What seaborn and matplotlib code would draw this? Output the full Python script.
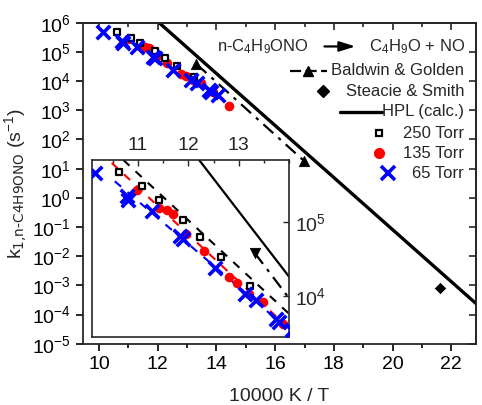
import numpy as np
import seaborn as sns
import matplotlib.pyplot as plt
from matplotlib.lines import Line2D
from matplotlib.ticker import FixedLocator, MultipleLocator, NullLocator, LogLocator

# data: x = 10000 K / T, values = log10(k / s^-1)
x_250 = [10.62, 11.09, 11.41, 11.90, 12.23, 12.65, 13.22]
lk_250 = [5.69, 5.49, 5.31, 5.03, 4.80, 4.53, 4.14]

x_135 = [10.99, 11.41, 11.58, 11.69, 11.95, 12.31, 12.80, 12.97, 13.20, 13.48, 13.88, 14.43]
lk_135 = [5.44, 5.20, 5.17, 5.12, 4.84, 4.61, 4.25, 4.18, 4.02, 3.92, 3.62, 3.16]

x_65 = [10.15, 10.78, 10.80, 11.28, 11.83, 11.89, 12.52, 13.12, 13.35, 13.74, 13.80, 14.05]
lk_65 = [5.67, 5.36, 5.30, 5.15, 4.82, 4.78, 4.38, 4.03, 3.94, 3.68, 3.64, 3.53]

x_bg = [13.32, 16.98]          # Baldwin & Golden
lk_bg = [4.58, 1.27]
x_ss = [21.63]                 # Steacie & Smith
lk_ss = [-3.08]
x_hpl = [12.0, 23.0]           # HPL (calc.)
lk_hpl = [6.04, -3.76]

# fitted lines shown in the inset
x_fit250 = [10.71, 13.99]
lk_fit250 = [5.85, 3.76]
x_fit135 = [10.48, 13.99]
lk_fit135 = [5.81, 3.56]
x_fit65 = [10.54, 13.99]
lk_fit65 = [5.56, 3.54]

sns.set_theme(style="ticks")
plt.rcParams["font.family"] = ["Liberation Sans", "DejaVu Sans"]
plt.rcParams["mathtext.default"] = "regular"
plt.rcParams["axes.linewidth"] = 1.3

k = lambda v: np.power(10.0, v)

fig = plt.figure(figsize=(4.82, 4.05), dpi=100)
ax = fig.add_axes([0.172, 0.151, 0.816, 0.793])
ax.set_yscale("log")


def draw(a, inset=False):
    sns.lineplot(x=x_hpl, y=k(np.array(lk_hpl)), color="black", lw=2.4 if not inset else 1.6, ax=a)
    sns.lineplot(x=x_bg, y=k(np.array(lk_bg)), color="black", lw=1.6,
                 linestyle=(0, (6, 3, 1.5, 3)), ax=a)
    sns.scatterplot(x=x_bg if not inset else x_bg[:1],
                    y=k(np.array(lk_bg)) if not inset else k(np.array(lk_bg[:1])),
                    marker="^" if not inset else "v", s=55, color="black", edgecolor="black", ax=a)
    sns.scatterplot(x=x_ss, y=k(np.array(lk_ss)), marker="D", s=40, color="black", ax=a)
    if inset:
        sns.lineplot(x=x_fit250, y=k(np.array(lk_fit250)), color="black", lw=1.5,
                     linestyle=(0, (4, 4)), ax=a)
        sns.lineplot(x=x_fit135, y=k(np.array(lk_fit135)), color="red", lw=1.5,
                     linestyle=(0, (4, 4)), ax=a)
        sns.lineplot(x=x_fit65, y=k(np.array(lk_fit65)), color="blue", lw=1.5,
                     linestyle=(0, (4, 4)), ax=a)
    sns.scatterplot(x=x_250, y=k(np.array(lk_250)), marker="s", s=22, color="white",
                    edgecolor="black", linewidth=1.6, ax=a, zorder=5)
    sns.scatterplot(x=x_135, y=k(np.array(lk_135)), marker="o", s=48, color="red",
                    edgecolor="red", linewidth=0, ax=a, zorder=4)
    sns.scatterplot(x=x_65, y=k(np.array(lk_65)), marker="x", s=95, color="blue",
                    linewidth=2.6, ax=a, zorder=6)


draw(ax)
ax.set_xlim(9.45, 22.85)
ax.set_ylim(1e-5, 1e6)
ax.xaxis.set_major_locator(MultipleLocator(2))
ax.xaxis.set_minor_locator(MultipleLocator(1))
ax.yaxis.set_major_locator(LogLocator(base=10, numticks=20))
ax.yaxis.set_minor_locator(NullLocator())
ax.tick_params(which="both", direction="out", width=1.2, labelsize=14, colors="black")
ax.tick_params(which="major", length=5)
ax.tick_params(which="minor", length=3)
ax.set_xlabel("10000 K / T", fontsize=14, labelpad=11)
ax.set_ylabel(r"k$_{\text{1,n-C4H9ONO}}$ (s$^{-1}$)", fontsize=14)
ax.yaxis.set_label_coords(-0.135, 0.5)

top = ax.secondary_xaxis("top")
top.xaxis.set_major_locator(MultipleLocator(2))
top.xaxis.set_minor_locator(MultipleLocator(1))
top.tick_params(which="both", direction="in", labeltop=False, width=1.2)
top.tick_params(which="major", length=5)
top.tick_params(which="minor", length=3)
right = ax.secondary_yaxis("right")
right.yaxis.set_major_locator(LogLocator(base=10, numticks=20))
right.yaxis.set_minor_locator(NullLocator())
right.tick_params(which="both", direction="in", labelright=False, width=1.2, length=5)

# legend drawn by hand (Origin style, labels right aligned)
tx = 0.969
fs = 12
ax.text(0.340, 0.926, r"n-C$_4$H$_9$ONO", transform=ax.transAxes, fontsize=fs, va="center")
ax.annotate("", xy=(0.700, 0.926), xytext=(0.607, 0.926), xycoords="axes fraction",
            arrowprops=dict(arrowstyle="-|>,head_length=0.8,head_width=0.25", color="black", lw=1.6))
ax.text(0.972, 0.926, r"C$_4$H$_9$O + NO", transform=ax.transAxes, fontsize=fs, va="center", ha="right")

rows = [0.851, 0.786, 0.723, 0.656, 0.593, 0.531]
labels = ["Baldwin & Golden", "Steacie & Smith", "HPL (calc.)", "250 Torr", "135 Torr", "65 Torr"]
for yy, lab in zip(rows, labels):
    ax.text(tx, yy, lab, transform=ax.transAxes, fontsize=fs, va="center", ha="right")
tr = ax.transAxes
ax.add_line(Line2D([0.527, 0.621], [rows[0]] * 2, transform=tr, color="black", lw=1.6, ls=(0, (5, 2))))
ax.add_line(Line2D([0.573], [rows[0]], transform=tr, marker="^", ms=7, color="black", ls="none"))
ax.add_line(Line2D([0.611], [rows[1]], transform=tr, marker="D", ms=6, color="black", ls="none"))
ax.add_line(Line2D([0.654, 0.761], [rows[2]] * 2, transform=tr, color="black", lw=2.4))
ax.add_line(Line2D([0.753], [rows[3]], transform=tr, marker="s", ms=4.5, mfc="white", mec="black",
                   mew=1.6, ls="none"))
ax.add_line(Line2D([0.753], [rows[4]], transform=tr, marker="o", ms=7, color="red", ls="none"))
ax.add_line(Line2D([0.776], [rows[5]], transform=tr, marker="x", ms=9.5, mew=2.6, color="blue", ls="none"))

# inset
axi = fig.add_axes([0.191, 0.168, 0.409, 0.437])
axi.set_yscale("log")
draw(axi, inset=True)
axi.set_xlim(10.09, 14.0)
axi.set_ylim(k(3.44), k(5.85))
axi.xaxis.tick_top()
axi.yaxis.tick_right()
axi.xaxis.set_major_locator(FixedLocator([11, 12, 13]))
axi.xaxis.set_minor_locator(MultipleLocator(0.5))
axi.yaxis.set_major_locator(FixedLocator([1e4, 1e5]))
axi.yaxis.set_minor_locator(NullLocator())
axi.tick_params(which="both", direction="in", width=1.0, labelsize=14, pad=4)
axi.tick_params(which="major", length=4)
axi.tick_params(which="minor", length=2.5)
for s in axi.spines.values():
    s.set_linewidth(1.2)
axi.set_xlabel("")
axi.set_ylabel("")

fig.savefig("out.png", dpi=100)
